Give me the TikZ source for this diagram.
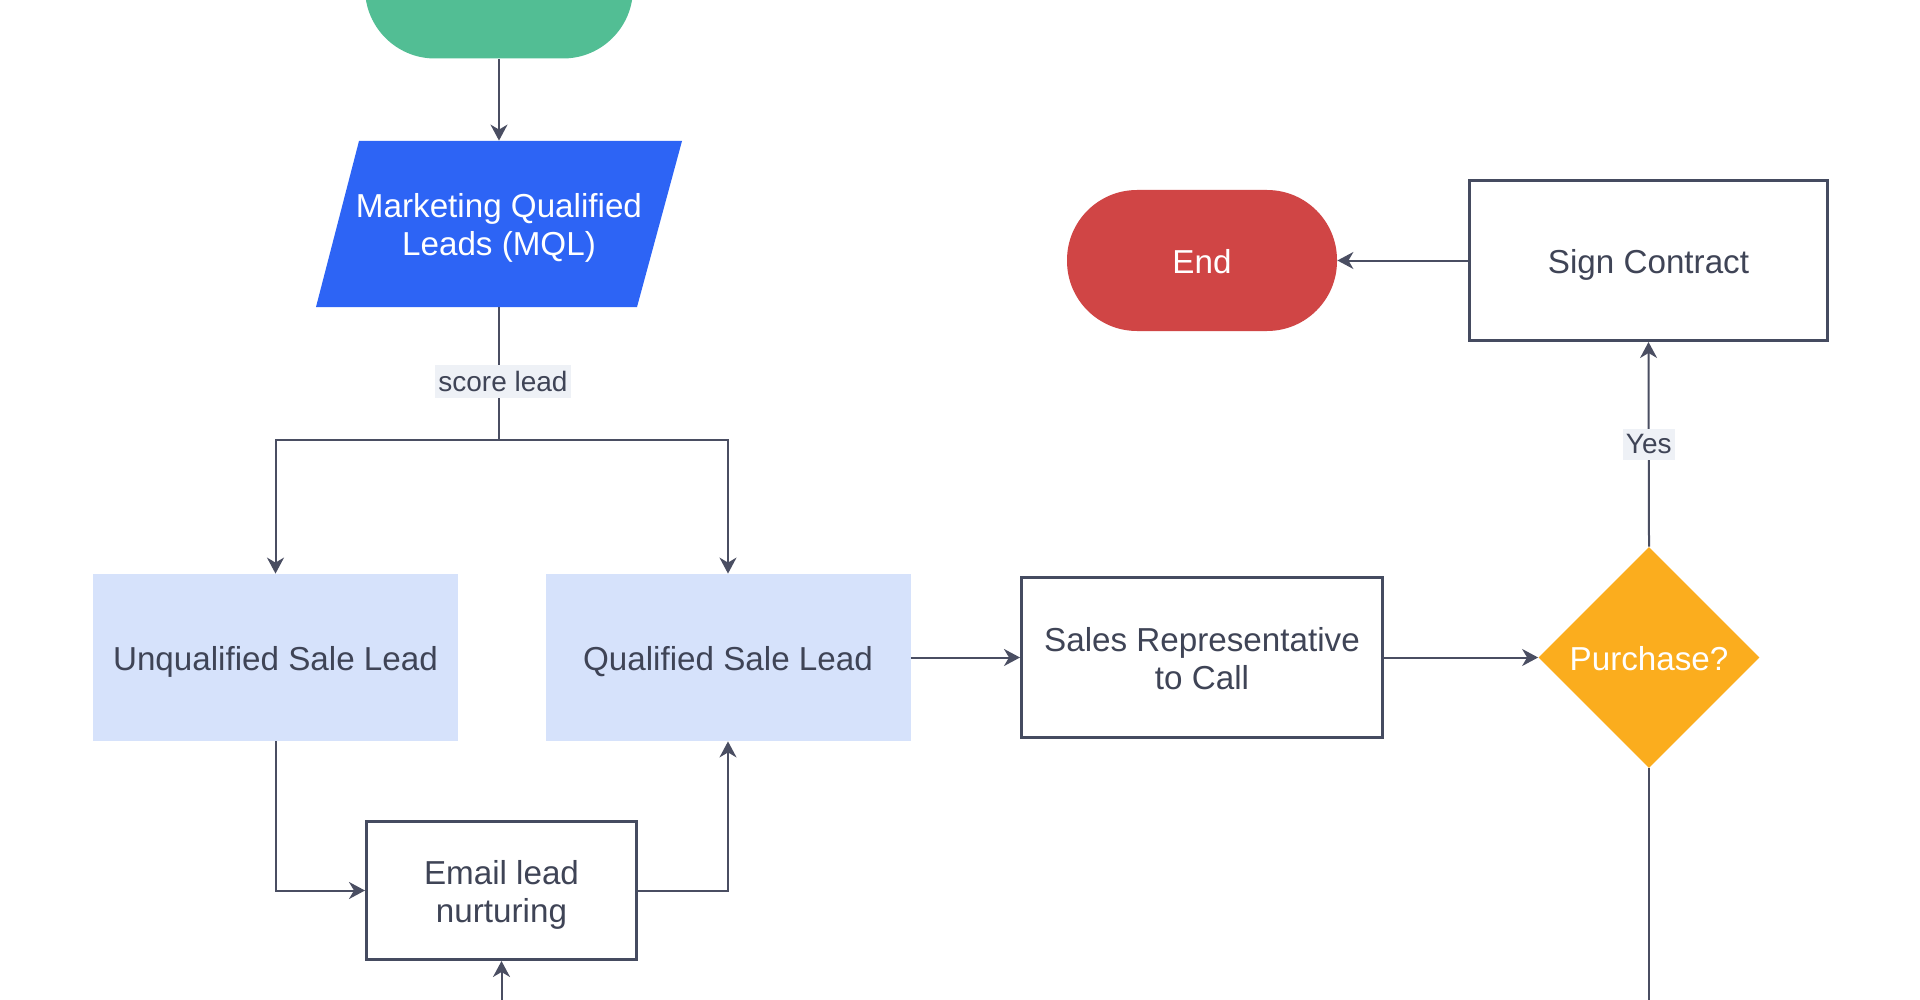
\documentclass[tikz,border=0pt]{standalone}
\usepackage{fontspec}
\setmainfont{Liberation Sans}
\usetikzlibrary{shapes.geometric,arrows.meta}
\definecolor{cgreen}{HTML}{52BE94}
\definecolor{cblue}{HTML}{2D64F5}
\definecolor{clight}{HTML}{D6E2FB}
\definecolor{cred}{HTML}{D04545}
\definecolor{corange}{HTML}{FBAD1E}
\definecolor{cline}{HTML}{4A4E62}
\definecolor{cborder}{HTML}{454B60}
\definecolor{ctext}{HTML}{3F4456}
\definecolor{clbl}{HTML}{EEF1F6}
\newcommand\mytop{\rule{0pt}{17.5pt}}
\newcommand\mybot{\rule[-4.5pt]{0pt}{4.5pt}}
\tikzset{
  base/.style={font=\fontsize{16.6}{19}\selectfont, align=center, inner sep=0pt},
  stadium/.style={base, rectangle, rounded corners=35pt, minimum width=135pt, minimum height=70.5pt, text=white},
  lightbox/.style={base, rectangle, fill=clight, text=ctext, minimum width=182.5pt, minimum height=83.5pt},
  outbox/.style={base, rectangle, draw=cborder, line width=1.5pt, fill=white, text=ctext},
  decision/.style={base, diamond, aspect=1, fill=corange, text=white, minimum width=110.5pt, minimum height=110.5pt},
  conn/.style={draw=cline, line width=1pt},
  arr/.style={conn, -{Stealth[length=8pt,width=8.5pt,inset=2.5pt]}},
  lbl/.style={font=\fontsize{14}{16}\selectfont, text=ctext, fill=clbl, inner xsep=1.5pt, inner ysep=3pt}
}
\begin{document}
\begin{tikzpicture}[x=0.5pt,y=-0.5pt]
\useasboundingbox (0,0) rectangle (1920,1000);
\clip (0,0) rectangle (1920,1000);
\fill[white] (0,0) rectangle (1920,1000);

% start (clipped at top)
\node[stadium, fill=cgreen, minimum width=134pt] (start) at (499,-12) {};

% MQL parallelogram
\fill[cblue] (359,141) -- (682,141) -- (637,307) -- (316,307) -- cycle;
\node[base, text=white, minimum width=160pt, minimum height=83pt] (mql) at (499,224) {\mytop Marketing Qualified\\Leads (MQL)\mybot};

\coordinate (split) at (499,440);

\node[lightbox] (unq) at (275.5,657.5) {\mytop Unqualified Sale Lead\mybot};
\node[lightbox] (qual) at (728,657.5) {\mytop Qualified Sale Lead\mybot};
\node[outbox, minimum width=180.5pt, minimum height=80pt] (sales) at (1202,657.5) {\mytop Sales Representative\\to Call\mybot};
\node[decision] (purch) at (1649,657.5) {\mytop Purchase?\mybot};
\node[outbox, minimum width=179pt, minimum height=80pt] (sign) at (1648.5,260.5) {\mytop Sign Contract\mybot};
\node[stadium, fill=cred] (end) at (1202,260.5) {\mytop End\mybot};
\node[outbox, minimum width=135pt, minimum height=69pt] (email) at (501.5,890.5) {\mytop Email lead\\nurturing\mybot};

\coordinate (offA) at (1649,1010);
\coordinate (offB) at (501.5,1010);

% connectors
\draw[arr] (start.south) -- (mql.north);
\draw[conn] (mql.south) -- node[lbl, pos=0.56, xshift=2pt] (lscore) {score lead} (split);
\draw[arr] (split) -| (unq.north);
\draw[arr] (split) -| (qual.north);
\draw[arr] (qual.east) -- (sales.west);
\draw[arr] (sales.east) -- (purch.west);
\draw[arr] (purch.north) -- node[lbl, pos=0.5] (lyes) {Yes} (sign.south);
\draw[arr] (sign.west) -- (end.east);
\draw[conn] (purch.south) -- (offA);
\draw[arr] (unq.south) |- (email.west);
\draw[arr] (email.east) -| (qual.south);
\draw[arr] (offB) -- (email.south);
\end{tikzpicture}
\end{document}
